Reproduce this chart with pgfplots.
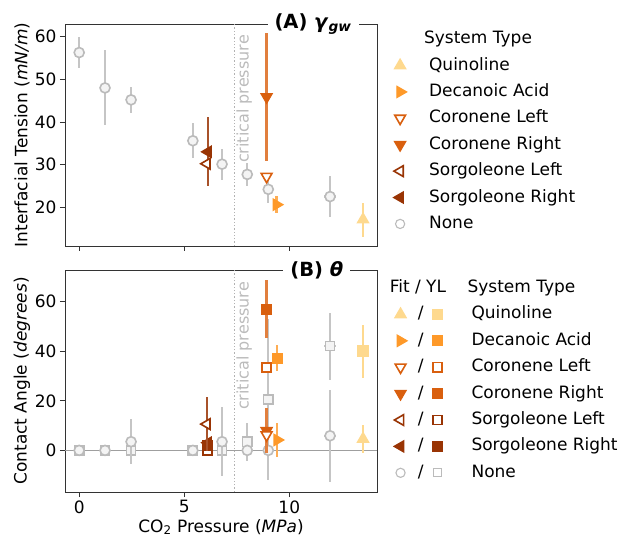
\documentclass[border=0pt]{standalone}
\usepackage{fontspec}
\setmainfont{DejaVu Sans}
\usepackage{pgfplots}
\pgfplotsset{compat=1.18}

\definecolor{quin}{HTML}{FED98E}
\definecolor{deca}{HTML}{FE9929}
\definecolor{coro}{HTML}{D95F0E}
\definecolor{sorg}{HTML}{993404}
\definecolor{noneedge}{HTML}{BBBBBB}
\definecolor{noneface}{HTML}{F4F4F4}
\definecolor{spine}{HTML}{333333}

\newcommand{\mainfs}{\fontsize{17bp}{20bp}\selectfont}
\newcommand{\titlefs}{\fontsize{19.5bp}{22bp}\selectfont}
% invisible horizontal extent of a legend image cell
\newcommand{\cellspan}[2]{\pgfpathmoveto{\pgfpoint{#1}{0bp}}\pgfpathlineto{\pgfpoint{#2}{0bp}}\pgfusepath{}}

% marker styles shared by the plots and the legends
\tikzset{
  quinT/.style={mark=triangle*, mark size=6.5bp, mark options={rotate=0,   draw=quin, fill=quin, line width=1.2bp}},
  decaT/.style={mark=triangle*, mark size=6.5bp, mark options={rotate=-90, draw=deca, fill=deca, line width=1.2bp}},
  coroLT/.style={mark=triangle*, mark size=6.2bp, mark options={rotate=180, draw=coro, fill=white, line width=1.6bp}},
  coroRT/.style={mark=triangle*, mark size=6.5bp, mark options={rotate=180, draw=coro, fill=coro, line width=1.2bp}},
  sorgLT/.style={mark=triangle*, mark size=6.2bp, mark options={rotate=90,  draw=sorg, fill=white, line width=1.6bp}},
  sorgRT/.style={mark=triangle*, mark size=6.5bp, mark options={rotate=90,  draw=sorg, fill=sorg, line width=1.2bp}},
  noneC/.style={mark=*, mark size=5bp, mark options={draw=noneedge, fill=noneface, line width=1.6bp}},
  quinS/.style={mark=square*, mark size=5bp, mark options={draw=quin, fill=quin, line width=1.2bp}},
  decaS/.style={mark=square*, mark size=5bp, mark options={draw=deca, fill=deca, line width=1.2bp}},
  coroLS/.style={mark=square*, mark size=4.6bp, mark options={draw=coro, fill=white, line width=1.6bp}},
  coroRS/.style={mark=square*, mark size=5bp, mark options={draw=coro, fill=coro, line width=1.2bp}},
  sorgLS/.style={mark=square*, mark size=4.6bp, mark options={draw=sorg, fill=white, line width=1.6bp}},
  sorgRS/.style={mark=square*, mark size=5bp, mark options={draw=sorg, fill=sorg, line width=1.2bp}},
  noneS/.style={mark=square*, mark size=4.6bp, mark options={draw=noneedge, fill=noneface, line width=1.6bp}},
  noneCleg/.style={mark=*, mark size=4.6bp, mark options={draw=noneedge, fill=white, line width=1.1bp}},
  noneSleg/.style={mark=square*, mark size=4bp, mark options={draw=noneedge, fill=white, line width=1.1bp}},
}

\newcommand{\fityl}[2]{%
  \draw[only marks, #1] plot coordinates {(0bp,0bp)};
  \node[inner sep=0bp] at (17bp,0bp) {/};
  \draw[only marks, #2] plot coordinates {(37bp,0bp)};
  \cellspan{-11bp}{71bp}}

\pgfplotsset{
  eb/.style={
    /pgfplots/error bars/x dir=both, /pgfplots/error bars/x explicit,
    /pgfplots/error bars/y dir=both, /pgfplots/error bars/y explicit,
    /pgfplots/error bars/error mark=none,
    /pgfplots/error bars/error bar style={line width=2.2bp, draw=#1}},
  pts/.style={only marks, forget plot},
  base/.style={
    scale only axis, width=312bp, height=222bp,
    xmin=-0.675, xmax=14.175, xtick={0,5,10},
    axis line style={spine, line width=0.8bp},
    tick style={spine, line width=0.8bp},
    major tick length=5bp, tick align=outside,
    xtick pos=bottom, ytick pos=left,
    font=\mainfs, tick label style={font=\mainfs}, label style={font=\mainfs},
    /pgf/number format/assume math mode=true,
    clip mode=individual,
    ylabel style={at={(axis description cs:-0.138,0.5)}, anchor=center},
    legend style={draw=none, fill=none, font=\mainfs, cells={anchor=west},
      nodes={inner sep=0bp, text height=13bp, text depth=4bp}, row sep=9.4bp},
  },
}

\begin{document}
\begin{tikzpicture}
\useasboundingbox (0,0) rectangle (625bp,538bp);

% ---------------- (A) interfacial tension ----------------
\begin{axis}[base, at={(65bp,292bp)}, anchor=south west,
  ymin=10.9, ymax=63, ytick={20,30,40,50,60}, xticklabels={},
  ylabel={Interfacial Tension (\textit{mN/m})},
  legend style={at={(1.043,0.98)}, anchor=north west},
  legend image code/.code={\draw[#1] plot coordinates {(0bp,0bp)}; \cellspan{-6bp}{29bp}},
]
\addplot[forget plot, gray!60, dotted, line width=1.3bp] coordinates {(7.38,10.9) (7.38,63)};
\node[rotate=90, anchor=north east, text=noneedge, font=\fontsize{16bp}{19bp}\selectfont, inner sep=2bp]
  at (axis cs:7.38,60.9) {critical pressure};

\addplot[pts, noneC, eb=noneedge!85] table[x=x, y=y, x error=ex, y error=ey] {
x     y     ex   ey
0.00  56.3  0    3.7
1.23  48.0  0    8.8
2.47  45.2  0    3.0
5.41  35.6  0    4.1
6.80  30.1  0    3.6
8.00  27.7  0    2.7
9.00  24.2  0    3.1
11.94 22.5  0.3  4.8
};
\addplot[pts, quinT, eb=quin] table[x=x, y=y, x error=ex, y error=ey] {
x     y     ex  ey
13.51 17.1  0   4.0
};
\addplot[pts, decaT, eb=deca!80] table[x=x, y=y, x error=ex, y error=ey] {
x     y     ex  ey
9.39  20.6  0   2.0
};
\addplot[pts, coroRT, eb=coro!80] table[x=x, y=y, x error=ex, y error=ey] {
x     y     ex  ey
8.92  45.9  0   15.0
};
\addplot[pts, coroLT, eb=coro!80] table[x=x, y=y, x error=ex, y error=ey] {
x     y     ex  ey
8.92  27.2  0   0
};
\addplot[pts, sorgRT, eb=sorg!85] table[x=x, y=y, x error=ex, y error=ey] {
x     y     ex  ey
6.13  33.0  0   8.1
};
\addplot[pts, sorgLT, eb=sorg!85] table[x=x, y=y, x error=ex, y error=ey] {
x     y     ex  ey
6.08  30.2  0   0
};

\node[fill=white, inner xsep=7bp, inner ysep=1bp, font=\titlefs\bfseries]
  at (rel axis cs:0.795,1) {(A) \textit{γ}\textsubscript{\textit{gw}}};

\addlegendimage{empty legend}\addlegendentry{\hspace*{-5bp}System Type}
\addlegendimage{only marks, quinT}\addlegendentry{Quinoline}
\addlegendimage{only marks, decaT}\addlegendentry{Decanoic Acid}
\addlegendimage{only marks, coroLT}\addlegendentry{Coronene Left}
\addlegendimage{only marks, coroRT}\addlegendentry{Coronene Right}
\addlegendimage{only marks, sorgLT}\addlegendentry{Sorgoleone Left}
\addlegendimage{only marks, sorgRT}\addlegendentry{Sorgoleone Right}
\addlegendimage{only marks, noneCleg}\addlegendentry{None}
\end{axis}

% ---------------- (B) contact angle ----------------
\begin{axis}[base, at={(65bp,46bp)}, anchor=south west,
  ymin=-16.8, ymax=72.8, ytick={0,20,40,60},
  ylabel={Contact Angle (\textit{degrees})},
  xlabel={CO\textsubscript{2} Pressure (\textit{MPa})},
  xlabel style={at={(axis description cs:0.5,-0.158)}, anchor=center},
  legend style={at={(1.03,0.967)}, anchor=north west},
]
\addplot[forget plot, gray!75, line width=1.3bp] coordinates {(-0.675,0) (14.175,0)};
\addplot[forget plot, gray!60, dotted, line width=1.3bp] coordinates {(7.38,-16.8) (7.38,72.8)};
\node[rotate=90, anchor=north east, text=noneedge, font=\fontsize{16bp}{19bp}\selectfont, inner sep=2bp]
  at (axis cs:7.38,68.8) {critical pressure};

% no additive: Young--Laplace squares and fitted circles
\addplot[pts, noneS, eb=noneedge!85] table[x=x, y=y, x error=ex, y error=ey] {
x     y     ex   ey
0.00  0.0   0    0
1.23  0.0   0    0
2.47  0.0   0    0
5.41  0.0   0    0
6.80  0.0   0    0
8.00  3.5   0    7.7
9.00  20.6  0    32.5
11.94 42.1  0.3  13.5
};
\addplot[pts, noneC, eb=noneedge!85] table[x=x, y=y, x error=ex, y error=ey] {
x     y     ex   ey
0.00  0.0   0    0
1.23  0.0   0    0
2.47  3.5   0    9.0
5.41  0.0   0    0
6.80  3.5   0    14.0
8.00  0.0   0    0
9.00  0.0   0    12.0
11.94 5.9   0.3  18.5
};
\addplot[pts, quinS, eb=quin] table[x=x, y=y, x error=ex, y error=ey] {
x     y     ex  ey
13.51 40.1  0   10.7
};
\addplot[pts, quinT, eb=quin] table[x=x, y=y, x error=ex, y error=ey] {
x     y     ex  ey
13.51 4.6   0   5.5
};
\addplot[pts, decaS, eb=deca!80] table[x=x, y=y, x error=ex, y error=ey] {
x     y     ex  ey
9.43  37.2  0   5.3
};
\addplot[pts, decaT, eb=deca!80] table[x=x, y=y, x error=ex, y error=ey] {
x     y     ex  ey
9.43  4.2   0   6.7
};
\addplot[pts, coroRS, eb=coro!80] table[x=x, y=y, x error=ex, y error=ey] {
x     y     ex  ey
8.92  57.0  0   11.6
};
\addplot[pts, coroRT, eb=coro!80] table[x=x, y=y, x error=ex, y error=ey] {
x     y     ex  ey
8.92  7.9   0   9.0
};
\addplot[pts, coroLS, eb=coro!80] table[x=x, y=y, x error=ex, y error=ey] {
x     y     ex  ey
8.92  33.4  0   0
};
\addplot[pts, coroLT, eb=coro!80] table[x=x, y=y, x error=ex, y error=ey] {
x     y     ex  ey
8.92  6.2   0   0
};
\addplot[pts, sorgLS, eb=sorg!85] table[x=x, y=y, x error=ex, y error=ey] {
x     y     ex  ey
6.10  0.0   0   0
};
\addplot[pts, sorgRS, eb=sorg!85] table[x=x, y=y, x error=ex, y error=ey] {
x     y     ex  ey
6.10  2.1   0   0
};
\addplot[pts, sorgRT, eb=sorg!85] table[x=x, y=y, x error=ex, y error=ey] {
x     y     ex  ey
6.13  3.1   0   0
};
\addplot[pts, sorgLT, eb=sorg!85] table[x=x, y=y, x error=ex, y error=ey] {
x     y     ex  ey
6.08  10.6  0   11.0
};

\node[fill=white, inner xsep=7bp, inner ysep=1bp, font=\titlefs\bfseries]
  at (rel axis cs:0.807,1) {(B) \textit{θ}};

\addlegendimage{legend image code/.code={\node[anchor=west, inner sep=0bp] at (-11bp,0bp) {Fit / YL}; \cellspan{-11bp}{71bp}}}
\addlegendentry{\hspace*{-4bp}System Type}
\addlegendimage{legend image code/.code={\fityl{quinT}{quinS}}}\addlegendentry{Quinoline}
\addlegendimage{legend image code/.code={\fityl{decaT}{decaS}}}\addlegendentry{Decanoic Acid}
\addlegendimage{legend image code/.code={\fityl{coroLT}{coroLS}}}\addlegendentry{Coronene Left}
\addlegendimage{legend image code/.code={\fityl{coroRT}{coroRS}}}\addlegendentry{Coronene Right}
\addlegendimage{legend image code/.code={\fityl{sorgLT}{sorgLS}}}\addlegendentry{Sorgoleone Left}
\addlegendimage{legend image code/.code={\fityl{sorgRT}{sorgRS}}}\addlegendentry{Sorgoleone Right}
\addlegendimage{legend image code/.code={\fityl{noneCleg}{noneSleg}}}\addlegendentry{None}
\end{axis}
\end{tikzpicture}
\end{document}
